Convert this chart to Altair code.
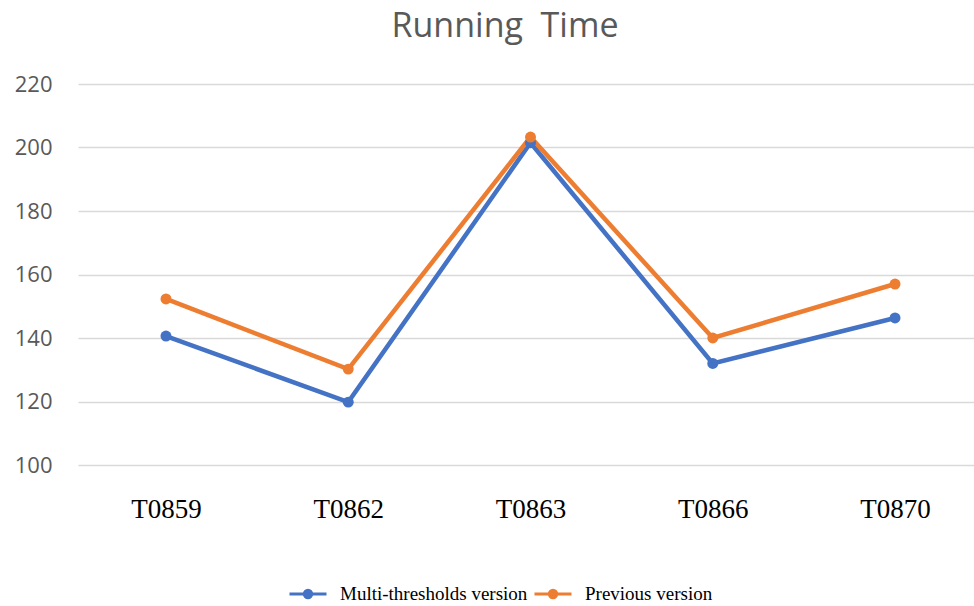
import altair as alt
import pandas as pd

categories = ["T0859", "T0862", "T0863", "T0866", "T0870"]
multi = [140.6, 119.8, 201.5, 132.0, 146.3]
previous = [152.3, 130.2, 203.3, 140.0, 157.0]
series_names = ["Multi-thresholds version", "Previous version"]
colors = ["#4472C4", "#ED7D31"]

rows = []
for c, m, p in zip(categories, multi, previous):
    rows.append({"task": c, "series": series_names[0], "value": m})
    rows.append({"task": c, "series": series_names[1], "value": p})
df = pd.DataFrame(rows)

color = alt.Color(
    "series:N",
    scale=alt.Scale(domain=series_names, range=colors),
    legend=alt.Legend(
        title=None,
        orient="none",
        legendX=210,
        legendY=490,
        direction="horizontal",
        symbolType="M -1 0 L 1 0 M -0.2 0 A 0.2 0.2 0 1 1 0.2 0 A 0.2 0.2 0 1 1 -0.2 0",
        symbolSize=1369,
        symbolStrokeWidth=3,
        labelFont="Liberation Serif",
        labelFontSize=19,
        labelColor="#000000",
        labelLimit=400,
        columnPadding=0,
        labelOffset=12,
    ),
)

x = alt.X(
    "task:N",
    sort=categories,
    title=None,
    scale=alt.Scale(type="point", padding=0.458, align=0.527),
    axis=alt.Axis(
        labelFont="Liberation Serif",
        labelFontSize=27,
        labelColor="#000000",
        labelAngle=0,
        labelPadding=31,
        ticks=False,
        domain=False,
        grid=False,
    ),
)
y = alt.Y(
    "value:Q",
    title=None,
    scale=alt.Scale(domain=[100, 220], nice=False, zero=False),
    axis=alt.Axis(
        values=[100, 120, 140, 160, 180, 200, 220],
        labelFont="Open Sans",
        labelFontSize=22,
        labelColor="#595959",
        labelPadding=26,
        ticks=False,
        domain=False,
        gridColor="#D9D9D9",
        gridWidth=1.5,
    ),
)

lines = alt.Chart(df).mark_line(strokeWidth=4.5).encode(x=x, y=y, color=color)
points = alt.Chart(df).mark_point(filled=True, size=120, opacity=1).encode(x=x, y=y, color=color)

chart = (
    alt.layer(lines, points)
    .properties(
        width=896,
        height=381,
        background="#FFFFFF",
        autosize=alt.AutoSizeParams(type="none"),
        padding={"left": 78, "top": 84, "right": 0, "bottom": 141},
        title=alt.TitleParams(
            "Running\u00a0\u00a0Time",
            font="Open Sans",
            fontSize=34,
            fontWeight="normal",
            color="#595959",
            offset=29,
            dx=-21,
        ),
    )
    .configure_view(stroke="transparent", strokeWidth=0)
    .configure_axisX(grid=False, domain=False)
)

chart.save("out.html", embed_options={"renderer": "svg", "actions": False})
